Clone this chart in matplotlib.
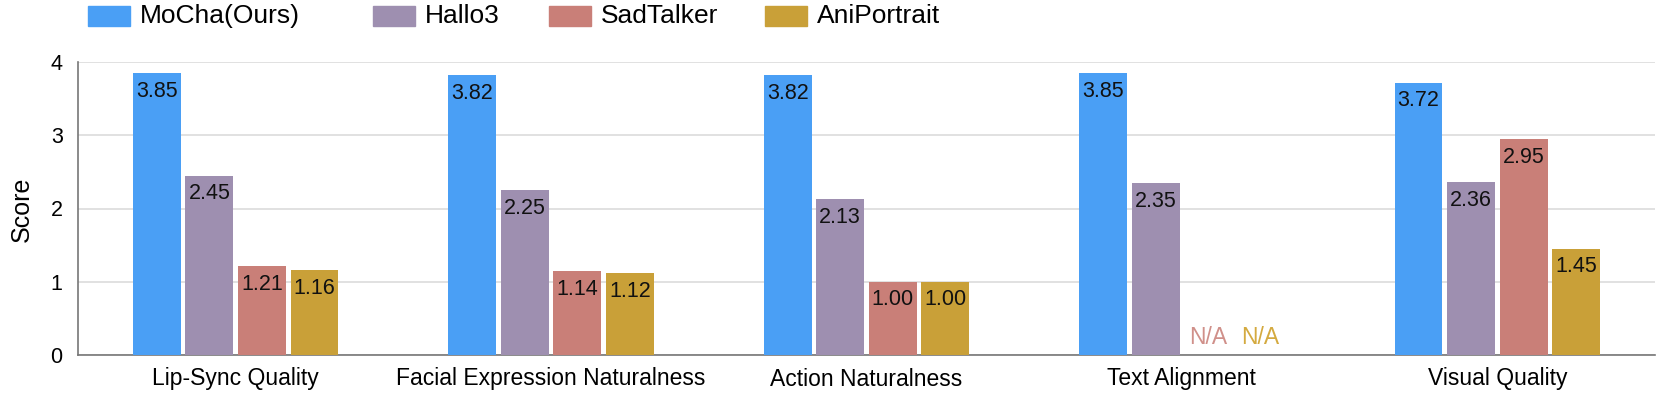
import numpy as np
import matplotlib
matplotlib.use("Agg")
import matplotlib.pyplot as plt
from matplotlib.patches import Rectangle

plt.rcParams['font.family'] = ['Liberation Sans', 'DejaVu Sans']

categories = ["Lip-Sync Quality", "Facial Expression Naturalness", "Action Naturalness",
              "Text Alignment", "Visual Quality"]
series_names = ["MoCha(Ours)", "Hallo3", "SadTalker", "AniPortrait"]
mocha = [3.85, 3.82, 3.82, 3.85, 3.72]
hallo3 = [2.45, 2.25, 2.13, 2.35, 2.36]
sadtalker = [1.21, 1.14, 1.00, None, 2.95]
aniportrait = [1.16, 1.12, 1.00, None, 1.45]
yticks = [0, 1, 2, 3, 4]

colors = ["#4A9FF5", "#9E8FB0", "#C97F78", "#C9A038"]
na_colors = ["#4A9FF5", "#9E8FB0", "#D0908A", "#D4AA40"]

W, H = 1661, 397
fig = plt.figure(figsize=(W / 100, H / 100), dpi=100)
ax = fig.add_axes([78 / W, 42 / H, 1577 / W, 293 / H])

all_series = [mocha, hallo3, sadtalker, aniportrait]
x = np.arange(len(categories))
pitch = 0.1665
width = 0.152
offsets = (np.arange(len(all_series)) - 1.5) * pitch

for i, vals in enumerate(all_series):
    v = np.array([np.nan if a is None else a for a in vals], dtype=float)
    ax.bar(x + offsets[i], np.nan_to_num(v), width=width, color=colors[i],
           edgecolor='none', zorder=3)
    for j, val in enumerate(vals):
        xc = x[j] + offsets[i]
        if val is None:
            ax.annotate("N/A", (xc, 0), xytext=(0, 4), textcoords='offset points',
                        ha='center', va='bottom', fontsize=16.5, color=na_colors[i], zorder=4)
        else:
            ax.annotate(f"{val:.2f}", (xc, val), xytext=(0, -5.5), textcoords='offset points',
                        ha='center', va='top', fontsize=15.5, color='#111111', zorder=4)

ax.set_xlim(-0.5, len(categories) - 0.5)
ax.set_ylim(0, 4)
ax.set_yticks(yticks)
ax.set_yticklabels([str(t) for t in yticks], fontsize=15.5)
ax.set_xticks(x)
ax.set_xticklabels(categories, fontsize=16.5)
ax.tick_params(axis='both', length=0)
ax.tick_params(axis='x', pad=9)
ax.tick_params(axis='y', pad=11)
ax.yaxis.grid(True, color='#DCDCDC', linewidth=1.2, zorder=0)
ax.set_axisbelow(True)
for s in ['top', 'right']:
    ax.spines[s].set_visible(False)
for s in ['left', 'bottom']:
    ax.spines[s].set_color('#777777')
    ax.spines[s].set_linewidth(1.2)

fig.text(22 / W, 1 - 209 / H, "Score", rotation=90, ha='center', va='center', fontsize=18)

# legend (manual layout)
leg_x = [88, 373, 549, 765]
for i, name in enumerate(series_names):
    fig.patches.append(Rectangle((leg_x[i] / W, 1 - 26 / H), 42 / W, 20 / H,
                                 transform=fig.transFigure, color=colors[i]))
    fig.text((leg_x[i] + 52) / W, 1 - 16 / H, name, ha='left', va='center', fontsize=19)

fig.savefig("out.png", dpi=100)
